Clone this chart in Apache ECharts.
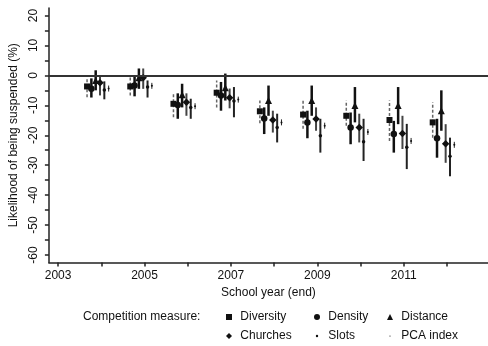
<!DOCTYPE html>
<html>
<head>
<meta charset="utf-8">
<script src="https://cdn.jsdelivr.net/npm/echarts@6/dist/echarts.min.js"></script>
<style>
  html, body { margin: 0; padding: 0; background: #fff; }
  #chart { width: 488px; height: 346px; }
</style>
</head>
<body>
<div id="chart"></div>
<script>
// School years (end) and the six competition measures
const years = [2004, 2005, 2006, 2007, 2008, 2009, 2010, 2011, 2012];
const measures = ['Diversity', 'Density', 'Distance', 'Churches', 'Slots', 'PCA index'];

// Point estimates and 95% confidence bounds (percentage points)
const diversityEst = [-3.7, -3.7, -9.5, -5.8, -12.0, -13.1, -13.5, -14.9, -15.7];
const diversityHi  = [-0.6, -0.6, -5.6, -1.7, -8.4, -8.4, -8.4, -8.4, -9.0];
const diversityLo  = [-7.3, -6.7, -14.0, -10.7, -16.0, -17.8, -16.8, -21.9, -20.8];

const densityEst = [-4.5, -3.4, -9.9, -6.7, -14.4, -15.7, -17.4, -19.6, -21.0];
const densityHi  = [-1.0, -0.3, -6.0, -2.2, -10.7, -11.8, -12.4, -15.2, -14.5];
const densityLo  = [-7.4, -7.0, -14.5, -11.8, -19.6, -21.0, -23.0, -25.8, -27.5];

const distanceEst = [-1.7, -0.8, -6.5, -4.1, -8.4, -8.4, -10.1, -10.1, -11.8];
const distanceHi  = [1.7, 2.3, -2.8, 0.6, -3.4, -3.4, -3.9, -3.9, -5.0];
const distanceLo  = [-5.0, -4.5, -10.7, -8.4, -13.5, -13.5, -15.7, -16.3, -18.5];

const churchesEst = [-2.5, -0.8, -9.0, -7.5, -14.9, -14.6, -17.4, -19.4, -22.8];
const churchesHi  = [0.0, 2.3, -6.0, -4.4, -11.8, -10.7, -12.8, -13.5, -16.3];
const churchesLo  = [-6.7, -4.5, -13.5, -11.0, -19.1, -18.5, -22.4, -24.6, -29.2];

const slotsEst = [-4.9, -3.9, -10.7, -8.6, -17.4, -20.2, -22.2, -24.0, -27.0];
const slotsHi  = [-2.0, -1.7, -7.8, -3.9, -12.8, -14.5, -14.5, -16.2, -20.8];
const slotsLo  = [-8.0, -7.4, -14.5, -14.0, -22.4, -25.8, -28.6, -31.3, -33.7];

const pcaEst = [-4.4, -3.5, -10.3, -8.1, -15.7, -16.8, -18.9, -21.9, -23.2];
const pcaHi  = [-3.4, -2.5, -9.3, -7.1, -14.7, -15.8, -17.9, -20.9, -22.2];
const pcaLo  = [-5.4, -4.5, -11.3, -9.1, -16.7, -17.8, -19.9, -22.9, -24.2];

// Axis tick labels
const xTickLabels = [2003, 2005, 2007, 2009, 2011];
const xTicks = [2003, 2004, 2005, 2006, 2007, 2008, 2009, 2010, 2011, 2012];
const yTickLabels = [20, 10, 0, -10, -20, -30, -40, -50, -60];
const yTicks = [20, 15, 10, 5, 0, -5, -10, -15, -20, -25, -30, -35, -40, -45, -50, -55, -60];

const estimates = [diversityEst, densityEst, distanceEst, churchesEst, slotsEst, pcaEst];
const upper = [diversityHi, densityHi, distanceHi, churchesHi, slotsHi, pcaHi];
const lower = [diversityLo, densityLo, distanceLo, churchesLo, slotsLo, pcaLo];

// Presentation: horizontal dodge within each year, marker and whisker styles
const dodge = [-0.33, -0.23, -0.13, -0.03, 0.07, 0.17];
const symbols = ['rect', 'circle', 'triangle', 'diamond', 'circle', 'circle'];
const symbolSizes = [6, 6.5, 7, 7.5, 3.5, 2];
const whisker = [
  { stroke: '#666', lineWidth: 1.5, lineDash: [3, 2] },
  { stroke: '#111', lineWidth: 2.5 },
  { stroke: '#111', lineWidth: 2.5 },
  { stroke: '#444', lineWidth: 2 },
  { stroke: '#222', lineWidth: 2 },
  { stroke: '#222', lineWidth: 1 }
];
const legendIcons = [
  'rect', 'circle', 'triangle', 'diamond',
  'path://M0,0 M10,10 M3,5 A2,2 0 1,1 7,5 A2,2 0 1,1 3,5 Z',
  'path://M0,0 M10,10 M4,5 A1,1 0 1,1 6,5 A1,1 0 1,1 4,5 Z'
];

const FONT = '"Liberation Sans", Arial, Helvetica, sans-serif';
const TEXT = '#111';

const series = [];
measures.forEach((name, m) => {
  series.push({
    name: name + ' CI',
    type: 'custom',
    z: 2,
    silent: true,
    encode: { x: 0, y: [1, 2] },
    data: years.map((yr, i) => [yr + dodge[m], lower[m][i], upper[m][i]]),
    renderItem: (params, api) => {
      const a = api.coord([api.value(0), api.value(1)]);
      const b = api.coord([api.value(0), api.value(2)]);
      return {
        type: 'line',
        shape: { x1: a[0], y1: a[1], x2: b[0], y2: b[1] },
        style: Object.assign({ fill: null }, whisker[m])
      };
    }
  });
});
measures.forEach((name, m) => {
  const s = {
    name: name,
    type: 'scatter',
    z: 3,
    symbol: symbols[m],
    symbolSize: symbolSizes[m],
    itemStyle: { color: '#111', opacity: 1 },
    data: years.map((yr, i) => [yr + dodge[m], estimates[m][i]])
  };
  if (m === 0) {
    s.markLine = {
      silent: true,
      symbol: 'none',
      label: { show: false },
      lineStyle: { color: '#333', width: 2, type: 'solid' },
      data: [{ yAxis: 0 }]
    };
  }
  series.push(s);
});

const legendColumn = (left, names) => ({
  orient: 'vertical',
  left: left,
  top: 311,
  itemWidth: 6,
  itemHeight: 6,
  itemGap: 7,
  padding: 0,
  selectedMode: false,
  textStyle: { fontFamily: FONT, fontSize: 12, color: TEXT },
  formatter: n => ' ' + n,
  data: names.map(n => ({ name: n, icon: legendIcons[measures.indexOf(n)] }))
});

const chart = echarts.init(document.getElementById('chart'), null, { renderer: 'canvas' });
chart.setOption({
  animation: false,
  backgroundColor: '#fff',
  grid: { left: 45, right: 0, top: 8, bottom: 83.5, containLabel: false },
  xAxis: {
    type: 'value',
    min: 2002.787,
    max: 2012.95,
    name: 'School year (end)',
    nameLocation: 'middle',
    nameGap: 23,
    nameTextStyle: { fontFamily: FONT, fontSize: 12, color: TEXT },
    axisLine: { show: true, onZero: false, lineStyle: { color: '#222', width: 1.5 } },
    axisTick: { show: true, length: 4, customValues: xTicks, lineStyle: { color: '#222', width: 1.5 } },
    axisLabel: {
      customValues: xTickLabels,
      margin: 7,
      fontFamily: FONT, fontSize: 12, color: TEXT,
      formatter: v => String(Math.round(v))
    },
    splitLine: { show: false }
  },
  yAxis: {
    type: 'value',
    min: -62.5,
    max: 22.5,
    name: 'Likelihood of being suspended (%)',
    nameLocation: 'middle',
    nameRotate: 90,
    nameGap: 25,
    nameTextStyle: { fontFamily: FONT, fontSize: 12, color: TEXT },
    axisLine: { show: true, onZero: false, lineStyle: { color: '#222', width: 1.5 } },
    axisTick: { show: true, length: 4, customValues: yTicks, lineStyle: { color: '#222', width: 1.5 } },
    axisLabel: {
      customValues: yTickLabels,
      rotate: 90,
      margin: 9,
      fontFamily: FONT, fontSize: 12, color: TEXT
    },
    splitLine: { show: false }
  },
  legend: [
    legendColumn(226, ['Diversity', 'Churches']),
    legendColumn(314, ['Density', 'Slots']),
    legendColumn(387, ['Distance', 'PCA index'])
  ],
  graphic: [{
    type: 'text',
    left: 83,
    top: 311,
    style: { text: 'Competition measure:', font: '12px ' + FONT, fill: TEXT }
  }],
  series: series
});
</script>
</body>
</html>
